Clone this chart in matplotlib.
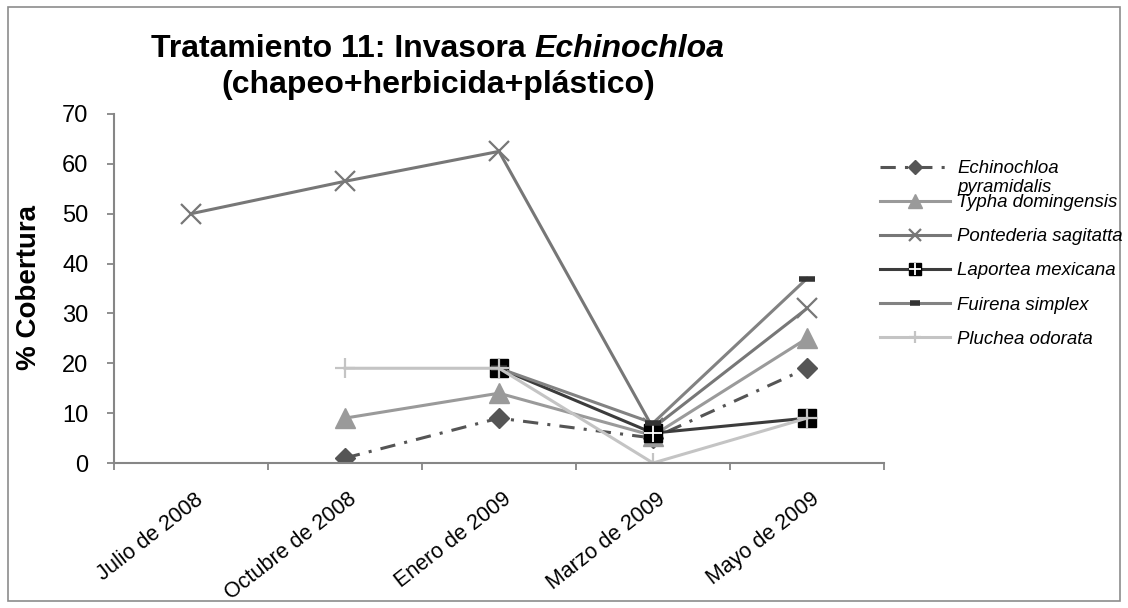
import matplotlib.pyplot as plt
from matplotlib.patches import Rectangle

plt.rcParams['font.family'] = ['Liberation Sans', 'DejaVu Sans']

fechas = ["Julio de 2008", "Octubre de 2008", "Enero de 2009", "Marzo de 2009", "Mayo de 2009"]
nan = float('nan')
echinochloa = [nan, 1, 9, 5, 19]
typha = [nan, 9, 14, 5.5, 25]
pontederia = [50, 56.5, 62.5, 7, 31]
laportea = [nan, nan, 19, 6, 9]
fuirena = [nan, nan, 19, 8, 37]
pluchea = [nan, 19, 19, 0, 9]

fig = plt.figure(figsize=(11.28, 6.08), dpi=100)
ax = fig.add_axes([114 / 1128, 145 / 608, 770 / 1128, 349 / 608])
fig.patches.append(Rectangle((0.007, 0.012), 0.986, 0.976, transform=fig.transFigure,
                             fill=False, edgecolor='#8c8c8c', linewidth=1.2))

x = [i + 0.5 for i in range(len(fechas))]
lw = 2.2

h1, = ax.plot(x, echinochloa, color='#555555', linestyle=(0, (5, 3, 1, 3)), linewidth=lw,
              marker='D', markersize=10.5, label='Echinochloa')
h2, = ax.plot(x, typha, color='#9a9a9a', linewidth=lw, marker='^', markersize=14.5,
              label='Typha domingensis')
h3, = ax.plot(x, pontederia, color='#777777', linewidth=lw, marker='x', markersize=14,
              markeredgewidth=1.6, label='Pontederia sagitatta')
h4, = ax.plot(x, laportea, color='#3c3c3c', linewidth=lw, marker='s', markersize=13.5,
              markerfacecolor='black', markeredgecolor='black', label='Laportea mexicana')
h4b, = ax.plot(x, laportea, linestyle='none', marker='+', markersize=13.5,
               markeredgecolor='white', markeredgewidth=1.3)
h5, = ax.plot(x, fuirena, color='#828282', linewidth=lw, marker='_', markersize=12,
              markeredgewidth=4, markeredgecolor='#333333', label='Fuirena simplex')
h6, = ax.plot(x, pluchea, color='#c4c4c4', linewidth=lw, marker='+', markersize=14,
              markeredgewidth=1.6, label='Pluchea odorata')

ax.set_xlim(0, 5)
ax.set_ylim(0, 70)
ax.set_yticks(range(0, 71, 10))
ax.set_xticks(range(0, 6))
ax.set_xticklabels([])
for xi, name in zip(x, fechas):
    ax.text(xi + 0.02, -5.2, name, rotation=38, ha='right', va='top',
            rotation_mode='anchor', fontsize=15.5)

for s in ['top', 'right']:
    ax.spines[s].set_visible(False)
for s in ['left', 'bottom']:
    ax.spines[s].set_color('#868686')
    ax.spines[s].set_linewidth(1.5)
ax.tick_params(axis='both', colors='#868686', width=1.3, length=5)
ax.tick_params(axis='y', labelsize=17, labelcolor='black', pad=13.5)

# titulo en dos lineas, con parte en cursiva
tsize = 23
cx = 438
t1 = fig.text(0, 1 - 57 / 608, 'Tratamiento 11: Invasora ', ha='left', va='baseline',
              fontsize=tsize, fontweight='bold')
t1b = fig.text(0, 1 - 57 / 608, 'Echinochloa', ha='left', va='baseline',
               fontsize=tsize, fontweight='bold', style='italic')
fig.canvas.draw()
r = fig.canvas.get_renderer()
w1 = t1.get_window_extent(r).width
w2 = t1b.get_window_extent(r).width
x0 = cx - (w1 + w2) / 2
t1.set_x(x0 / 1128)
t1b.set_x((x0 + w1) / 1128)
fig.text(cx / 1128, 1 - 93 / 608, '(chapeo+herbicida+plástico)', ha='center', va='baseline',
         fontsize=tsize, fontweight='bold')

fig.text(29 / 1128, 1 - 287 / 608, '% Cobertura', rotation=90, ha='center', va='center',
         fontsize=20, fontweight='bold')

leg = fig.legend([h1, h2, h3, (h4, h4b), h5, h6],
                 [h1.get_label(), h2.get_label(), h3.get_label(), h4.get_label(),
                  h5.get_label(), h6.get_label()],
                 loc='upper left', bbox_to_anchor=(880 / 1128, 1 - 160 / 608), frameon=False,
                 prop={'style': 'italic', 'size': 13.4}, handlelength=3.76, borderpad=0,
                 borderaxespad=0, labelspacing=0.92, handletextpad=0.38, markerscale=0.65)
fig.canvas.draw()
bb = leg.get_texts()[0].get_window_extent(r)
fig.text(bb.x0 / 1128, (bb.y0 - 2) / 608, 'pyramidalis', ha='left', va='top',
         fontsize=13.4, style='italic')

fig.savefig('out.png', dpi=100)
